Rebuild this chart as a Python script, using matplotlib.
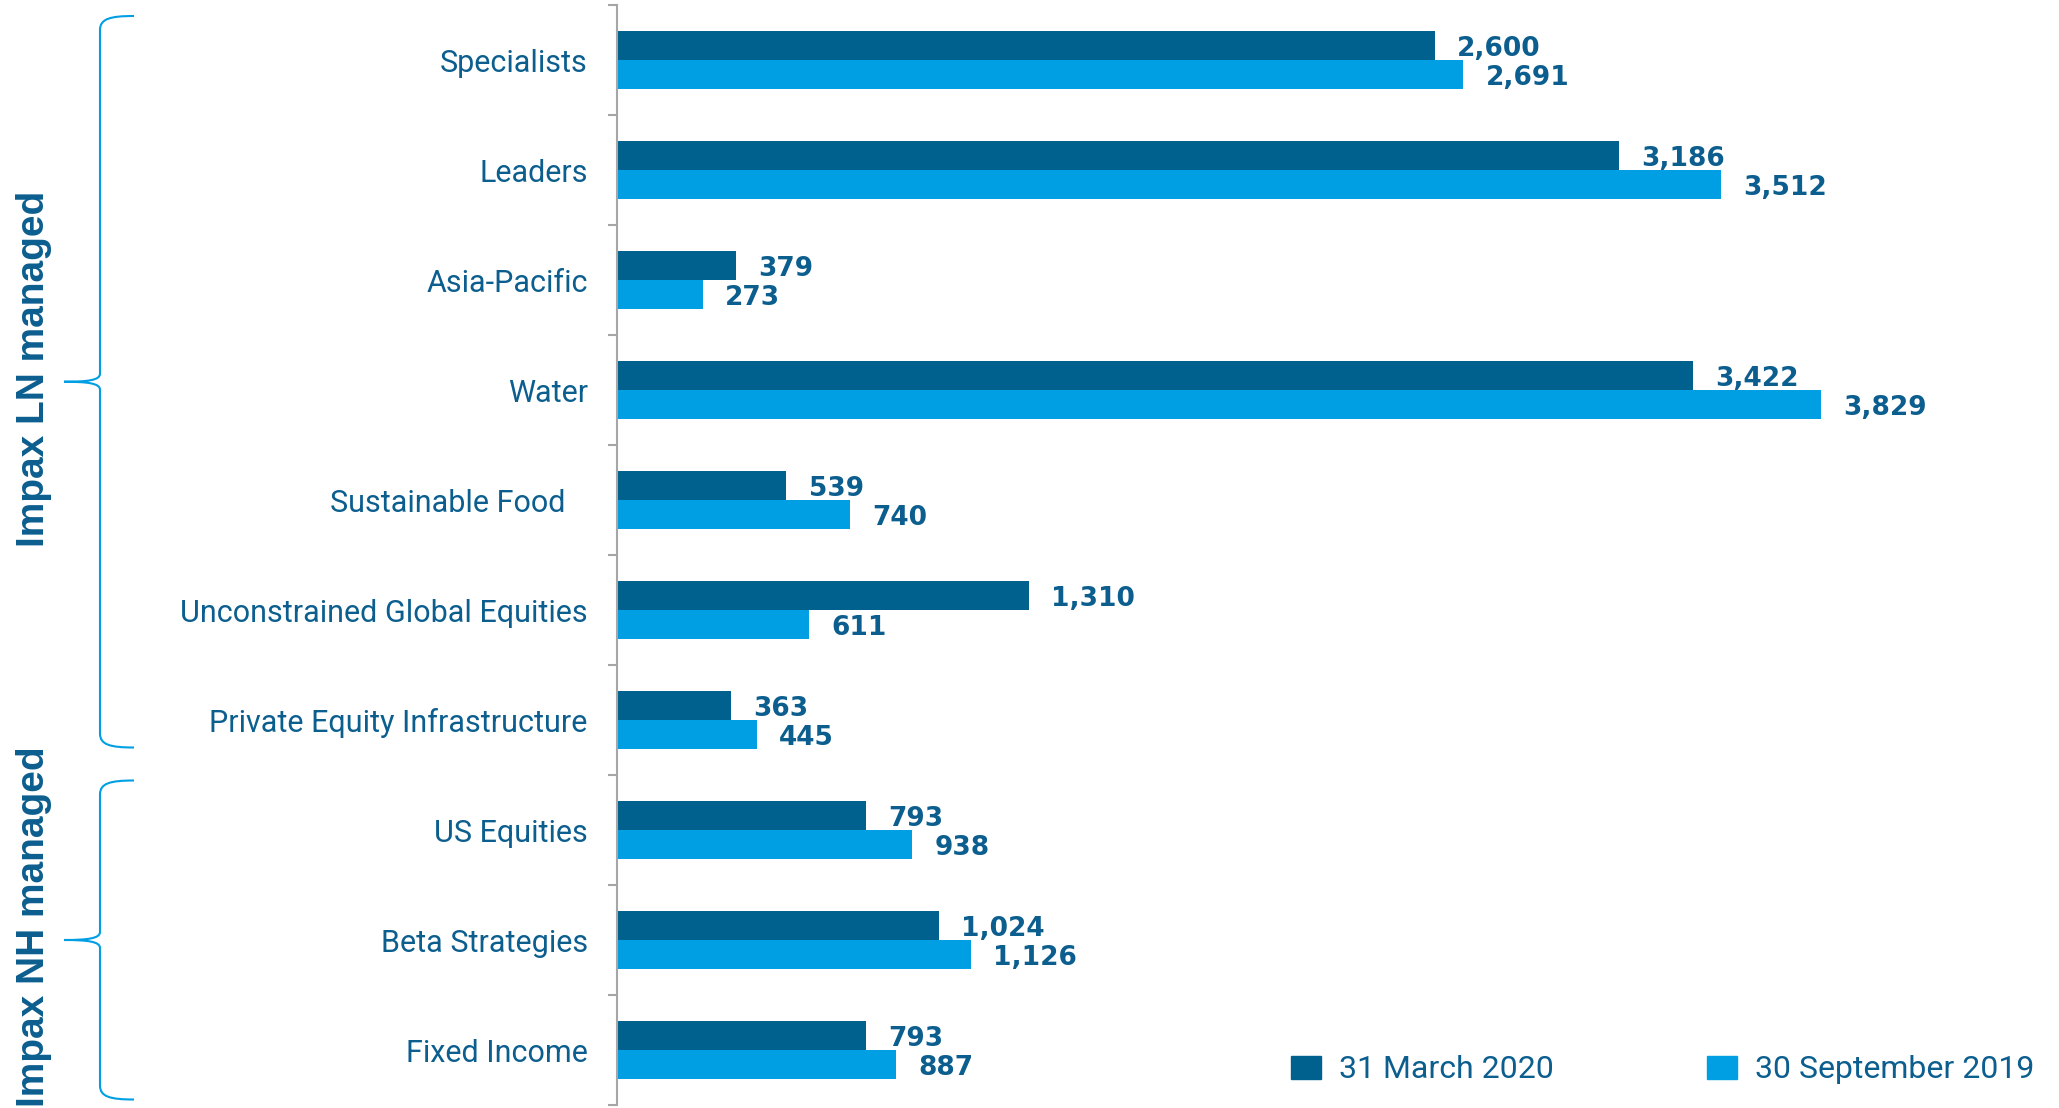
import numpy as np
import matplotlib
matplotlib.use("Agg")
from matplotlib import pyplot as plt
from matplotlib.path import Path
from matplotlib.patches import PathPatch, Patch
from matplotlib.transforms import Affine2D, blended_transform_factory

# assets under management by strategy (USD m)
strategies = ["Specialists", "Leaders", "Asia-Pacific", "Water", "Sustainable Food   ",
              "Unconstrained Global Equities", "Private Equity Infrastructure",
              "US Equities", "Beta Strategies", "Fixed Income"]
mar_2020 = [2600, 3186, 379, 3422, 539, 1310, 363, 793, 1024, 793]
sep_2019 = [2691, 3512, 273, 3829, 740, 611, 445, 938, 1126, 887]
series_names = ["31 March 2020", "30 September 2019"]

# (label, first row, last row) of each manager bracket
groups = [("Impax LN managed", -0.4, 6.25), ("Impax NH managed", 6.55, 9.45)]

dark = "#00618F"
light = "#009FE3"
txt = "#0B5E8E"
grey = "#A6A6A6"

W, H = 2059, 1108
fig = plt.figure(figsize=(W / 100, H / 100), dpi=100)
ax = fig.add_axes([617 / W, 3 / H, 1415 / W, 1100 / H])

n = len(strategies)
y = np.arange(n)
bh = 0.26
ax.barh(y - bh / 2, mar_2020, height=bh, color=dark)
ax.barh(y + bh / 2, sep_2019, height=bh, color=light)

for vals, off in ((mar_2020, -bh / 2), (sep_2019, bh / 2)):
    for i, v in enumerate(vals):
        ax.annotate(f"{v:,}", xy=(v, i + off), xytext=(16, -2.5), textcoords="offset points",
                    va="center", ha="left", fontsize=19, fontweight="bold",
                    color=txt, family="DejaVu Sans")

ax.set_xlim(0, 4500)
ax.set_ylim(n - 0.5, -0.5)
ax.set_xticks([])
for s in ("top", "right", "bottom"):
    ax.spines[s].set_visible(False)
ax.spines["left"].set_color(grey)
ax.spines["left"].set_linewidth(1.5)

ax.set_yticks(y, strategies)
ax.set_yticks(np.arange(-0.5, n), minor=True)
ax.tick_params(axis="y", which="major", length=0, pad=21, labelsize=22, labelcolor=txt)
ax.tick_params(axis="y", which="minor", length=6.5, width=1.5, color=grey)
for lab in ax.get_yticklabels():
    lab.set_family("Roboto")

handles = [Patch(color=dark), Patch(color=light)]
fig.legend(handles, series_names, loc="center left",
           bbox_to_anchor=(1291 / W, 1 - 1070 / H), ncol=2, frameon=False,
           prop={"family": "Roboto", "size": 23}, labelcolor=txt,
           borderpad=0, borderaxespad=0, handlelength=0.94, handleheight=0.75,
           handletextpad=0.56, columnspacing=4.8)

# curly brackets: x in figure pixels, y in data rows
trans = blended_transform_factory(Affine2D().scale(1 / W, 1) + fig.transFigure, ax.transData)
px = n / 1100.0
x_tip, x_line, x_end = 64, 100, 134
for label, top, bot in groups:
    mid = (top + bot) / 2
    he, ht = 14 * px, 8 * px
    verts = [(x_end, top),
             (110, top), (x_line, top + 0.2 * he), (x_line, top + he),
             (x_line, mid - ht),
             (x_line, mid - 0.2 * ht), (88, mid), (x_tip, mid),
             (88, mid), (x_line, mid + 0.2 * ht), (x_line, mid + ht),
             (x_line, bot - he),
             (x_line, bot - 0.2 * he), (110, bot), (x_end, bot)]
    codes = [Path.MOVETO] + [Path.CURVE4] * 3 + [Path.LINETO] + [Path.CURVE4] * 6 + \
            [Path.LINETO] + [Path.CURVE4] * 3
    fig.add_artist(PathPatch(Path(verts, codes), transform=trans, fill=False,
                             ec=light, lw=1.5, clip_on=False))
    fig.text(34, mid - 0.12, label, transform=trans, rotation=90, ha="center",
             va="center", fontsize=28, fontweight="bold", color=txt,
             family="Liberation Sans")

fig.savefig("out.png", dpi=100)
